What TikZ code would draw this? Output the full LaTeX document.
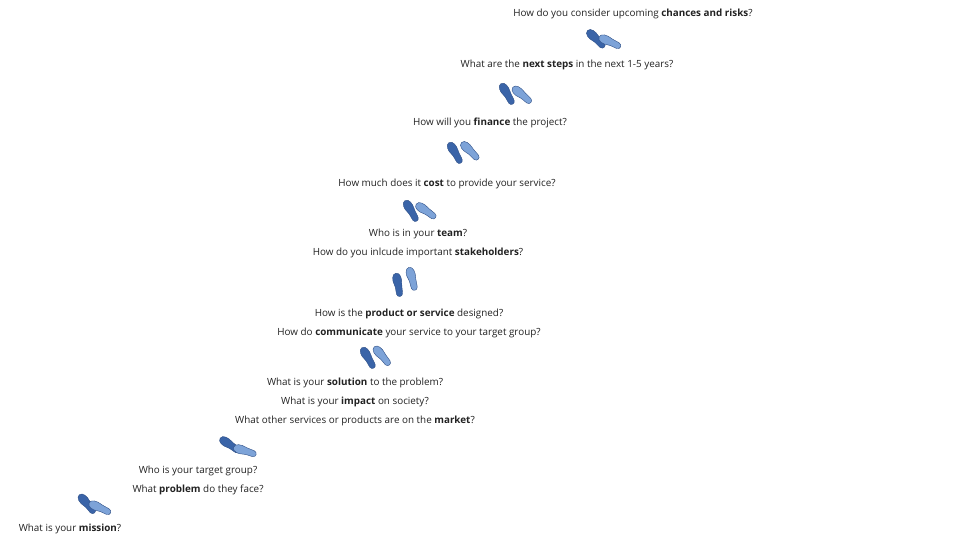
\documentclass[tikz,border=0pt]{standalone}
\usepackage{fontspec}
\setmainfont{Open Sans}
\definecolor{fdark}{HTML}{3A64A8}
\definecolor{flight}{HTML}{7DA3D8}
\definecolor{fline}{HTML}{2E4F86}
\definecolor{txt}{HTML}{222222}
\tikzset{
  q/.style={font=\fontsize{7.4}{9}\selectfont, text=txt, inner sep=0pt},
  foot/.pic={
    \fill[#1, draw=fline, line width=0.3pt]
      (0,-12) .. controls (4.5,-12) and (5,-5) .. (4,-1)
      .. controls (3.3,2) and (3.5,6) .. (3,9)
      .. controls (2.5,12.5) and (-2.5,12.5) .. (-3,9)
      .. controls (-3.3,6) and (-2.6,2) .. (-3.6,-1)
      .. controls (-5,-5) and (-4.5,-12) .. (0,-12) -- cycle;
  }
}
\newcommand{\stepsPair}[6]{%
  \pic[rotate=#3] at (#1,#2) {foot=fdark};
  \pic[rotate=#6] at (#4,#5) {foot=flight};
}
\begin{document}
\begin{tikzpicture}[x=0.75pt,y=-0.75pt]
\useasboundingbox (0,0) rectangle (960,540);
\node[q] (t1) at (633,14) {How do you consider upcoming \textbf{chances and risks}?};
\node[q] (t2) at (567,65) {What are the \textbf{next steps} in the next 1-5 years?};
\node[q] (t3) at (490,123) {How will you \textbf{finance} the project?};
\node[q] (t4) at (447,184) {How much does it \textbf{cost} to provide your service?};
\node[q] (t5) at (418,234) {Who is in your \textbf{team}?};
\node[q] (t6) at (418,253) {How do you inlcude important \textbf{stakeholders}?};
\node[q] (t7) at (409,314) {How is the \textbf{product or service} designed?};
\node[q] (t8) at (409,333) {How do \textbf{communicate} your service to your target group?};
\node[q] (t9) at (355,383) {What is your \textbf{solution} to the problem?};
\node[q] (t10) at (355,402) {What is your \textbf{impact} on society?};
\node[q] (t11) at (355,421) {What other services or products are on the \textbf{market}?};
\node[q] (t12) at (198,471) {Who is your target group?};
\node[q] (t13) at (198,490) {What \textbf{problem} do they face?};
\node[q] (t14) at (70,529) {What is your \textbf{mission}?};
\stepsPair{596}{39}{45}{610}{42}{65}
\stepsPair{507}{94}{30}{522}{95}{50}
\stepsPair{455}{153}{30}{470}{151}{45}
\stepsPair{411}{211}{30}{426}{211}{55}
\stepsPair{398}{285}{10}{412}{279}{15}
\stepsPair{368}{358}{30}{382}{356}{40}
\stepsPair{230}{445}{55}{245}{451}{72}
\stepsPair{87}{504}{40}{100}{508}{65}
\end{tikzpicture}
\end{document}
